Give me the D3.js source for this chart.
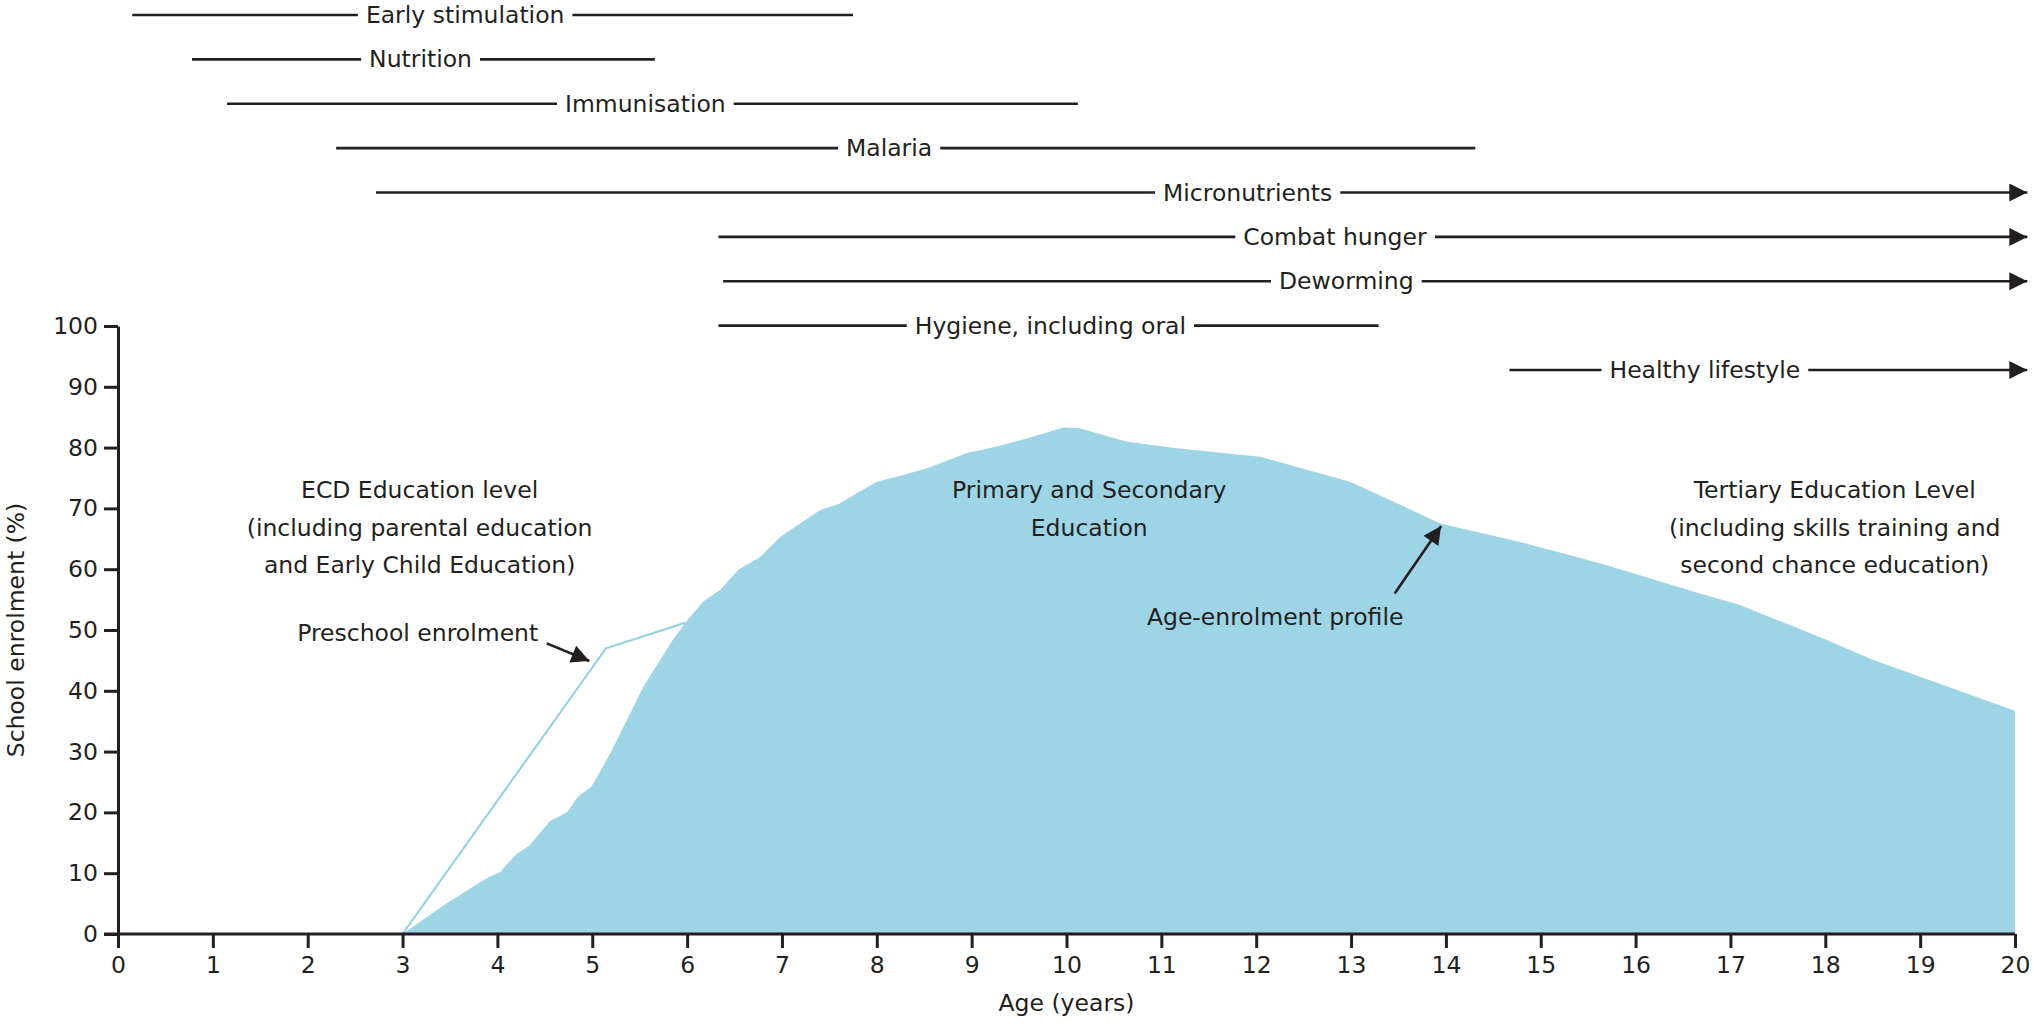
<!DOCTYPE html>
<html>
<head>
<meta charset="utf-8">
<script src="https://cdn.jsdelivr.net/npm/d3@7/dist/d3.min.js"></script>
<style>
  body { margin: 0; background: #fff; }
  text { font-family: "DejaVu Sans", sans-serif; fill: #231f20; }
</style>
</head>
<body>
<script>
// interventions shown as bars above the chart (ages in years)
const interventions = ['Early stimulation', 'Nutrition', 'Immunisation', 'Malaria', 'Micronutrients',
  'Combat hunger', 'Deworming', 'Hygiene, including oral', 'Healthy lifestyle']
const startAge = [0.15, 0.78, 1.15, 2.30, 2.72, 6.33, 6.38, 6.33, 14.67]
const endAge = [7.75, 5.66, 10.12, 14.31, 20.13, 20.13, 20.13, 13.29, 20.13]
const continues = [false, false, false, false, true, true, true, false, true]
const labelAge = [3.66, 3.19, 5.56, 8.13, 11.91, 12.83, 12.95, 9.83, 16.73]

// age-enrolment profile
const profileAge = [3.0, 3.45, 3.89, 4.03, 4.19, 4.34, 4.55, 4.74, 4.85, 4.99, 5.19, 5.54, 5.85, 5.98, 6.17,
  6.35, 6.54, 6.77, 6.98, 7.40, 7.61, 7.79, 8.0, 8.28, 8.53, 8.95, 9.30, 9.58, 9.97, 10.14, 10.63,
  11.16, 12.04, 12.99, 13.41, 13.94, 14.75, 15.38, 15.66, 16.68, 17.1, 18.01, 18.5, 19.0, 20.0]
const profileEnrol = [0, 4.9, 9.2, 10.2, 13.0, 14.6, 18.5, 20.1, 22.6, 24.2, 29.7, 40.7, 48.4, 51.2, 54.7,
  56.6, 59.9, 62.0, 65.3, 69.7, 70.8, 72.5, 74.4, 75.5, 76.6, 79.1, 80.3, 81.5, 83.3, 83.2, 81.0,
  79.9, 78.5, 74.4, 71.4, 67.5, 64.6, 62.0, 60.8, 56.0, 54.1, 48.4, 45.1, 42.3, 36.7]

// preschool enrolment line
const preschoolAge = [3.0, 5.145, 5.98]
const preschoolEnrol = [0, 47.0, 51.2]

const xTicks = d3.range(0, 21)
const yTicks = d3.range(0, 101, 10)

// text notes placed in data units
const notes = [
  {age: 3.18, enrol: 73.0, lines: ['ECD Education level', '(including parental education', 'and Early Child Education)']},
  {age: 3.16, enrol: 49.5, lines: ['Preschool enrolment']},
  {age: 10.24, enrol: 73.0, lines: ['Primary and Secondary', 'Education']},
  {age: 12.2, enrol: 52.1, lines: ['Age-enrolment profile']},
  {age: 18.1, enrol: 73.0, lines: ['Tertiary Education Level', '(including skills training and', 'second chance education)']}
]
const pointers = [
  {from: [4.52, 47.8], to: [4.97, 44.9]},
  {from: [13.46, 56.0], to: [13.95, 67.1]}
]

const svgWidth = 2034, svgHeight = 1024
const ink = '#231f20', fillBlue = '#9dd5e7', lineBlue = '#8fcfe3'
const fs = 23.5

const svg = d3.select('body').append('svg')
  .attr('width', svgWidth)
  .attr('height', svgHeight)

const x = d3.scaleLinear().domain([0, 20]).range([118, 2015])
const y = d3.scaleLinear().domain([0, 100]).range([934, 326])
const row = d3.scalePoint().domain(interventions).range([15, 370])

const defs = svg.append('defs')
defs.append('marker')
  .attr('id', 'head')
  .attr('viewBox', '0 0 10 10')
  .attr('refX', 10).attr('refY', 5)
  .attr('markerWidth', 22).attr('markerHeight', 18)
  .attr('markerUnits', 'userSpaceOnUse')
  .attr('orient', 'auto')
  .append('path')
  .attr('d', 'M0,0L10,5L0,10Z')
  .attr('fill', ink)

// profile area
const profile = profileAge.map((a, i) => ({age: a, enrol: profileEnrol[i]}))
svg.append('path')
  .datum(profile)
  .attr('fill', fillBlue)
  .attr('d', d3.area()
    .x(d => x(d.age))
    .y0(y(0))
    .y1(d => y(d.enrol)))

const preschool = preschoolAge.map((a, i) => ({age: a, enrol: preschoolEnrol[i]}))
svg.append('path')
  .datum(preschool)
  .attr('fill', 'none')
  .attr('stroke', lineBlue)
  .attr('stroke-width', 2)
  .attr('d', d3.line().x(d => x(d.age)).y(d => y(d.enrol)))

// axes
const xAxis = svg.append('g')
  .attr('transform', 'translate(0,' + y(0) + ')')
  .call(d3.axisBottom(x).tickValues(xTicks).tickSize(14).tickSizeOuter(0).tickPadding(8))
const yAxis = svg.append('g')
  .attr('transform', 'translate(' + x(0) + ',0)')
  .call(d3.axisLeft(y).tickValues(yTicks).tickSize(14).tickSizeOuter(0).tickPadding(6))
;[xAxis, yAxis].forEach(g => {
  g.selectAll('path, line').attr('stroke', ink).attr('stroke-width', 3)
  g.selectAll('text').attr('font-size', fs).attr('font-family', '"DejaVu Sans", sans-serif').attr('fill', ink)
})
xAxis.select('.domain').attr('d', 'M' + (x(0) - 14) + ',0H' + x(20))

svg.append('text')
  .attr('x', x(10)).attr('y', 1003)
  .attr('text-anchor', 'middle').attr('dominant-baseline', 'central')
  .attr('font-size', fs)
  .text('Age (years)')
svg.append('text')
  .attr('transform', 'translate(16,' + y(50) + ') rotate(-90)')
  .attr('text-anchor', 'middle').attr('dominant-baseline', 'central')
  .attr('font-size', fs)
  .text('School enrolment (%)')

// intervention bars
interventions.forEach((name, i) => {
  const g = svg.append('g')
  const yy = row(name)
  g.append('line')
    .attr('x1', x(startAge[i])).attr('x2', x(endAge[i]))
    .attr('y1', yy).attr('y2', yy)
    .attr('stroke', ink).attr('stroke-width', 2.6)
    .attr('marker-end', continues[i] ? 'url(#head)' : null)
  const bg = g.append('rect').attr('fill', '#fff')
  const t = g.append('text')
    .attr('x', x(labelAge[i])).attr('y', yy)
    .attr('text-anchor', 'middle').attr('dominant-baseline', 'central')
    .attr('font-size', fs)
    .text(name)
  const b = t.node().getBBox()
  bg.attr('x', b.x - 8).attr('y', yy - 4).attr('width', b.width + 16).attr('height', 8)
})

// notes
notes.forEach(n => {
  const t = svg.append('text')
    .attr('text-anchor', 'middle')
    .attr('font-size', fs)
  n.lines.forEach((l, k) => {
    t.append('tspan')
      .attr('x', x(n.age))
      .attr('y', y(n.enrol) + k * 37.5)
      .attr('dominant-baseline', 'central')
      .text(l)
  })
})

pointers.forEach(p => {
  svg.append('line')
    .attr('x1', x(p.from[0])).attr('y1', y(p.from[1]))
    .attr('x2', x(p.to[0])).attr('y2', y(p.to[1]))
    .attr('stroke', ink).attr('stroke-width', 2.6)
    .attr('marker-end', 'url(#head)')
})
</script>
</body>
</html>
